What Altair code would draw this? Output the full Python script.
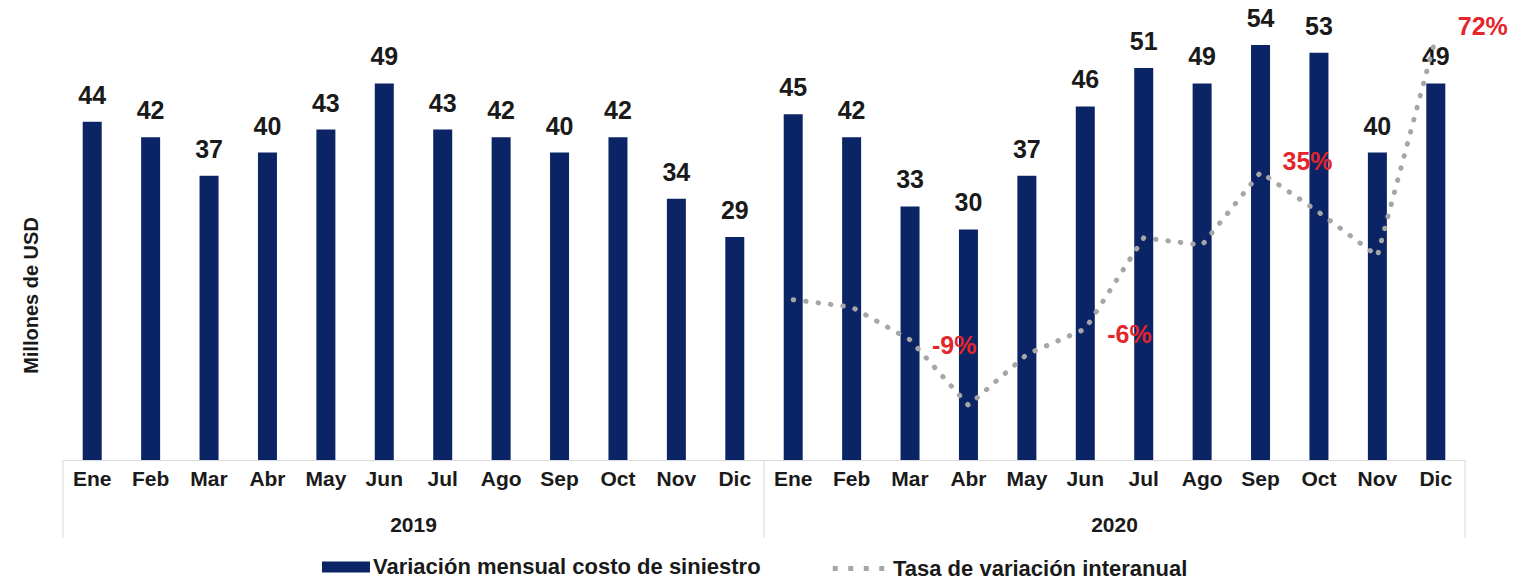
import altair as alt
import pandas as pd

meses = ["Ene", "Feb", "Mar", "Abr", "May", "Jun", "Jul", "Ago", "Sep", "Oct", "Nov", "Dic"]
anios = ["2019", "2020"]
costo_2019 = [44, 42, 37, 40, 43, 49, 43, 42, 40, 42, 34, 29]
costo_2020 = [45, 42, 33, 30, 37, 46, 51, 49, 54, 53, 40, 49]
tasa_2020 = [2, 0, -9, -27, -13, -6, 19, 17, 37, 26, 14, 74]
etiquetas_tasa = ["", "", "-9%", "", "", "-6%", "", "", "35%", "", "", "72%"]
serie_barras = "Variación mensual costo de siniestro"
serie_linea = "Tasa de variación interanual"

claves = [f"{a}-{m}" for a in anios for m in meses]
barras = pd.DataFrame({"clave": claves, "costo": costo_2019 + costo_2020, "serie": serie_barras})
linea = pd.DataFrame({
    "clave": [f"2020-{m}" for m in meses],
    "tasa": tasa_2020,
    "etiqueta": etiquetas_tasa,
    "serie": serie_linea,
})
anios_df = pd.DataFrame({"clave": [f"{a}-Jun" for a in anios], "anio": anios})
limites_ini = pd.DataFrame({"clave": ["2019-Ene", "2020-Ene"]})
limites_fin = pd.DataFrame({"clave": ["2020-Dic"]})

FONT = "Liberation Sans"
W, H = 1402, 440
TXT = "#1a1a1a"

xscale = alt.Scale(domain=claves, paddingInner=0, paddingOuter=0)
x_axis = alt.Axis(
    title=None, labelExpr="split(datum.label, '-')[1]", labelAngle=0, ticks=False,
    domainColor="#d9d9d9", domainWidth=1, grid=False, labelFont=FONT, labelFontSize=21,
    labelFontWeight="bold", labelColor=TXT, labelPadding=8,
)


def xenc(band=0.5):
    return alt.X("clave:N", scale=xscale, sort=claves, axis=x_axis, bandPosition=band)


yscale_bar = alt.Scale(domain=[0, 57.25], nice=False, zero=True)
y_axis = alt.Axis(
    title="Millones de USD", labels=False, ticks=False, domain=False, grid=False,
    titleFont=FONT, titleFontSize=20, titleFontWeight="bold", titleColor=TXT,
    titleX=-32, titleY=275, titleAngle=270, titleAlign="center", titleBaseline="middle",
)
ybar = alt.Y("costo:Q", scale=yscale_bar, axis=y_axis)

bars = alt.Chart(barras).mark_bar(size=19).encode(
    x=xenc(),
    y=ybar,
    color=alt.Color(
        "serie:N", scale=alt.Scale(range=["#0b2465"]),
        legend=alt.Legend(
            title=None, orient="none", legendX=259, legendY=523,
            symbolType="M-1,-0.23H1V0.23H-1Z", symbolSize=2304, symbolStrokeWidth=0,
            labelFont=FONT, labelFontSize=22, labelFontWeight="bold", labelColor=TXT,
            labelOffset=3, labelLimit=0,
        ),
    ),
)

bar_labels = alt.Chart(barras).mark_text(
    dy=-18, baseline="alphabetic", font=FONT, fontSize=25, fontWeight="bold", color=TXT
).encode(x=xenc(), y=ybar, text="costo:Q")

rules_ini = alt.Chart(limites_ini).mark_rule(color="#d9d9d9", strokeWidth=1).encode(
    x=xenc(0), y=alt.value(H), y2=alt.value(518)
)
rules_fin = alt.Chart(limites_fin).mark_rule(color="#d9d9d9", strokeWidth=1).encode(
    x=xenc(1), y=alt.value(H), y2=alt.value(518)
)
year_text = alt.Chart(anios_df).mark_text(
    baseline="middle", font=FONT, fontSize=21, fontWeight="bold", color=TXT
).encode(x=xenc(1), y=alt.value(506), text="anio:N")

yscale_line = alt.Scale(domain=[-42, 78.8], nice=False, zero=False)
yline = alt.Y("tasa:Q", scale=yscale_line, axis=None)

line = alt.Chart(linea).mark_line(strokeWidth=5, strokeDash=[0.5, 12], strokeCap="round").encode(
    x=xenc(),
    y=yline,
    stroke=alt.Stroke(
        "serie:N", scale=alt.Scale(range=["#a6a6a6"]),
        legend=alt.Legend(
            title=None, orient="none", legendX=767, legendY=520,
            symbolType="stroke", symbolSize=2652, symbolStrokeWidth=5, symbolDash=[5, 10.5],
            labelFont=FONT, labelFontSize=22, labelFontWeight="bold", labelColor=TXT,
            labelOffset=6, labelLimit=0,
        ),
    ),
)

pct_neg = alt.Chart(linea).transform_filter("datum.etiqueta != '' && datum.tasa < 0").mark_text(
    align="left", baseline="middle", dx=22, dy=6, font=FONT, fontSize=25, fontWeight="bold",
    color="#e3262b",
).encode(x=xenc(), y=yline, text="etiqueta:N")

pct_pos = alt.Chart(linea).transform_filter("datum.etiqueta != '' && datum.tasa >= 0").mark_text(
    align="left", baseline="middle", dx=22, dy=-10, font=FONT, fontSize=25, fontWeight="bold",
    color="#e3262b",
).encode(x=xenc(), y=yline, text="etiqueta:N")

capa_barras = alt.layer(rules_ini, rules_fin, bars, bar_labels, year_text)
capa_linea = alt.layer(line, pct_neg, pct_pos)

chart = alt.layer(capa_barras, capa_linea).resolve_scale(
    y="independent", color="independent", stroke="independent"
).properties(
    width=W, height=H,
    padding={"left": 63, "top": 20, "right": 72, "bottom": 119},
    autosize=alt.AutoSizeParams(type="none"),
    background="white",
).configure_view(stroke=None)

chart.save("out.html", embed_options={"renderer": "svg", "actions": False})
